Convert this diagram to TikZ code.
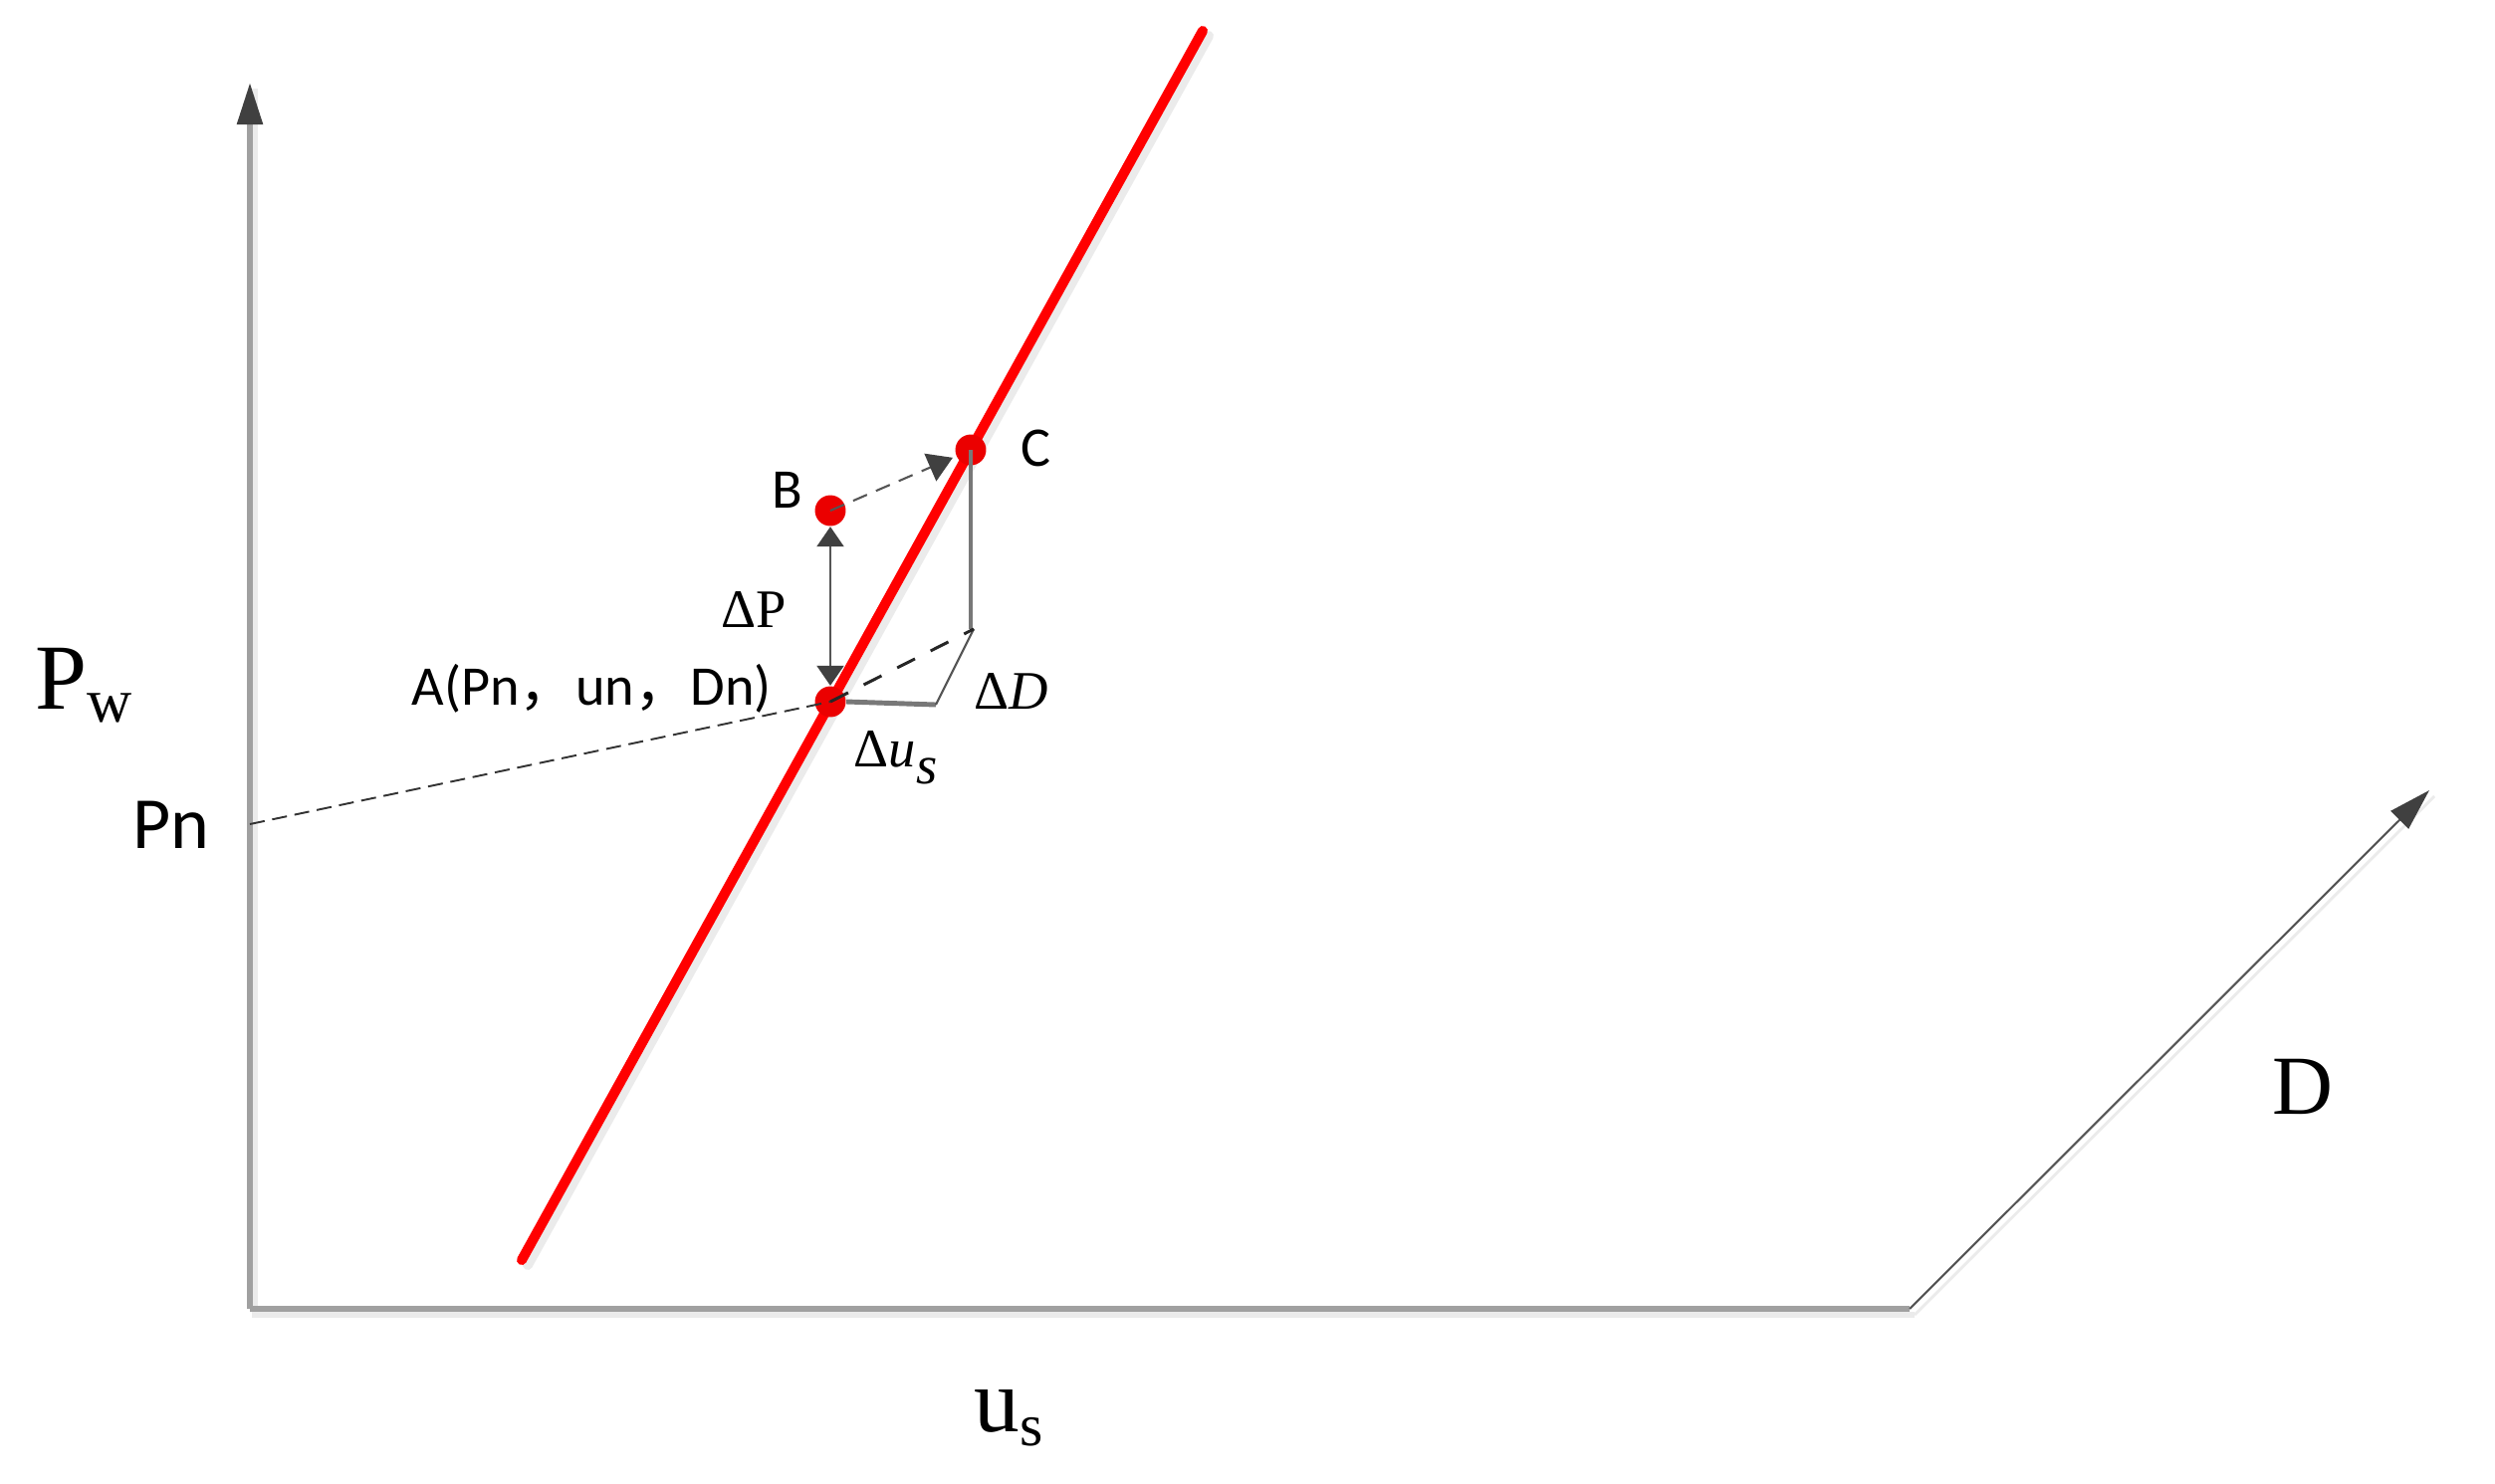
\documentclass[tikz,border=0pt]{standalone}
\usepackage{fontspec}
\setmainfont{Liberation Serif}
\newfontfamily\calfont{Carlito}
\newfontfamily\cjkfont{Noto Sans CJK SC}
\usetikzlibrary{arrows.meta}
\definecolor{axisgray}{RGB}{160,160,160}
\definecolor{tipgray}{RGB}{64,64,64}
\definecolor{darkline}{RGB}{85,85,85}
\definecolor{midgray}{RGB}{120,120,120}
\definecolor{shadowgray}{RGB}{235,235,235}
\definecolor{redline}{RGB}{255,0,0}
\definecolor{reddot}{RGB}{235,0,0}
\begin{document}
\begin{tikzpicture}[x=0.01cm,y=-0.01cm,
  axisline/.style={draw=axisgray,line width=1.7pt},
  shadowline/.style={draw=shadowgray,line width=1.7pt},
  bigtip/.style={-{Triangle[width=7.1pt,length=12pt,color=tipgray]}},
  dot/.style={circle,fill=reddot,inner sep=0pt,minimum size=8.8pt},
  lbl/.style={inner sep=0pt,anchor=base west},
  sanslbl/.style={lbl,font=\calfont\fontsize{16}{19}\selectfont},
  seriflbl/.style={lbl,font=\fontsize{15.5}{18}\selectfont}]
\useasboundingbox (0,0) rectangle (2506,1490);
% key points
\coordinate (O) at (251,1315);
\coordinate (Ytop) at (251,83);
\coordinate (Xend) at (1918,1315);
\coordinate (Dtip) at (2440,794);
\coordinate (R0) at (524,1266);
\coordinate (R1) at (1208,31);
\coordinate (Pn0) at (251,828);
\coordinate (Dc) at (978,632);
\coordinate (E) at (940,708);
% shadows
\draw[shadowline] ([shift={(5,6)}]Ytop) -- ([shift={(5,6)}]O) -- ([shift={(5,6)}]Xend);
\draw[draw=shadowgray,line width=0.8pt] ([shift={(5,6)}]Xend) -- ([shift={(5,6)}]Dtip);
\draw[draw=shadowgray,line width=2.85pt,line cap=round] ([shift={(6,5)}]R0) -- ([shift={(6,5)}]R1);
% axes
\draw[axisline,bigtip] (O) -- (Ytop);
\draw[axisline] (O) -- (Xend);
\draw[draw=darkline,line width=0.6pt,bigtip] (Xend) -- (Dtip);
% red line
\draw[draw=redline,line width=2.85pt,line cap=round] (R0) -- (R1);
% points
\node[dot] (A) at (834,705) {};
\node[dot] (B) at (834,513) {};
\node[dot] (C) at (975,452) {};
% construction lines
\draw[draw=midgray,line width=1.4pt] (A.east) -- (E);
\draw[draw=darkline,line width=0.6pt] (E) -- (Dc);
\draw[draw=midgray,line width=1.1pt] (C.center) -- (C.center |- Dc);
\draw[draw=black!85,line width=0.85pt,dash pattern=on 5.7pt off 5pt] (A.center) -- (Dc);
\draw[draw=black!80,line width=0.55pt,dash pattern=on 4.3pt off 2.2pt] (Pn0) -- (A.center);
\draw[draw=darkline,line width=0.6pt,dash pattern=on 4.3pt off 2.8pt,
  -{Triangle[width=8.5pt,length=7pt,color=tipgray]},shorten >=1pt] (B.center) -- (C);
\draw[draw=darkline,line width=0.6pt,
  {Triangle[width=7.7pt,length=5.7pt,color=tipgray]}-{Triangle[width=7.7pt,length=5.7pt,color=tipgray]}] (B) -- (A);
% labels
\node[lbl,font=\fontsize{26.6}{30}\selectfont] (Pw) at (35,712) {P\raisebox{-3.7pt}{\fontsize{17.8}{20}\selectfont w}};
\node[lbl,font=\calfont\fontsize{21}{25}\selectfont] (PnL) at (133,852) {Pn};
\node[lbl,font=\fontsize{26}{30}\selectfont] (us) at (978,1438) {u\raisebox{-4pt}{\fontsize{17}{20}\selectfont s}};
\node[lbl,font=\fontsize{24}{28}\selectfont] (DL) at (2282,1119) {D};
\node[sanslbl] (AL) at (413,708) {A(Pn{\cjkfont ，}un{\cjkfont ，}Dn)};
\node[sanslbl] (BL) at (775,510) {B};
\node[sanslbl] (CL) at (1025,468) {C};
\node[seriflbl] (dP) at (724,630) {ΔP};
\node[seriflbl] (dD) at (978,712) {Δ\textit{D}};
\node[seriflbl] (du) at (857,770) {Δ\textit{u}\raisebox{-5pt}{\textit{s}}};
\end{tikzpicture}
\end{document}
